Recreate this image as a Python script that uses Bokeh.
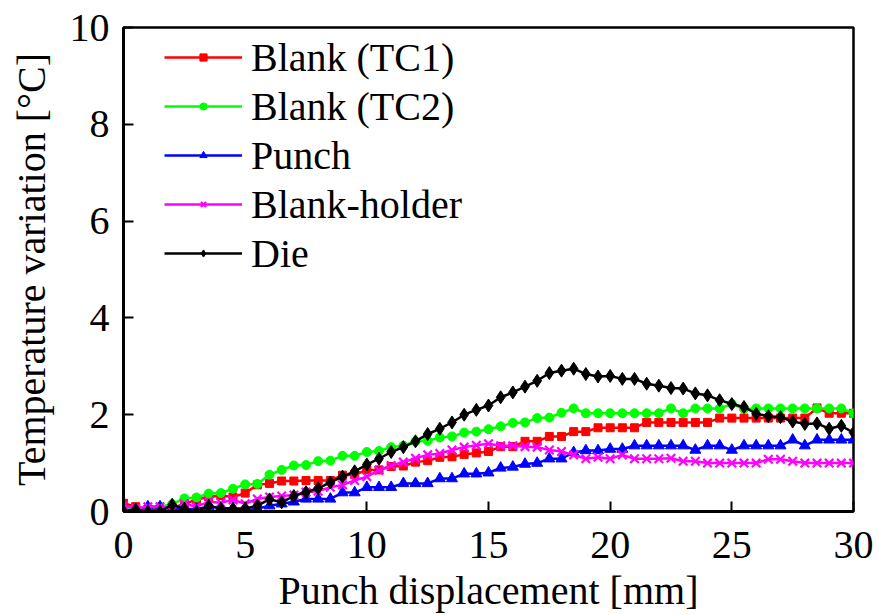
from bokeh.plotting import figure
from bokeh.models import Range1d, FixedTicker, Legend, LegendItem
from bokeh.embed import file_html
from bokeh.resources import INLINE

# Punch displacement [mm]
displacement = [0.0, 0.5, 1.0, 1.5, 2.0, 2.5, 3.0, 3.5, 4.0, 4.5,
                5.0, 5.5, 6.0, 6.5, 7.0, 7.5, 8.0, 8.5, 9.0, 9.5,
                10.0, 10.5, 11.0, 11.5, 12.0, 12.5, 13.0, 13.5, 14.0, 14.5,
                15.0, 15.5, 16.0, 16.5, 17.0, 17.5, 18.0, 18.5, 19.0, 19.5,
                20.0, 20.5, 21.0, 21.5, 22.0, 22.5, 23.0, 23.5, 24.0, 24.5,
                25.0, 25.5, 26.0, 26.5, 27.0, 27.5, 28.0, 28.5, 29.0, 29.5,
                30.0]

blank_tc1 = [0.17, 0.10, 0.05, 0.05, 0.08, 0.15, 0.25, 0.30, 0.33, 0.30,
             0.38, 0.55, 0.58, 0.63, 0.63, 0.64, 0.64, 0.64, 0.75, 0.76,
             0.86, 0.86, 0.93, 0.94, 1.02, 1.05, 1.12, 1.13, 1.18, 1.21,
             1.24, 1.34, 1.34, 1.45, 1.45, 1.55, 1.55, 1.65, 1.65, 1.73,
             1.73, 1.73, 1.73, 1.84, 1.84, 1.84, 1.84, 1.84, 1.84, 1.93,
             1.93, 1.93, 1.93, 1.93, 1.93, 1.93, 1.93, 2.14, 2.03, 2.03,
             2.03]

blank_tc2 = [0.05, 0.05, 0.08, 0.10, 0.15, 0.27, 0.29, 0.37, 0.38, 0.47,
             0.56, 0.57, 0.76, 0.86, 0.95, 0.96, 1.04, 1.05, 1.15, 1.15,
             1.23, 1.25, 1.33, 1.36, 1.45, 1.46, 1.53, 1.55, 1.63, 1.65,
             1.70, 1.76, 1.83, 1.84, 1.93, 1.94, 2.04, 2.13, 2.03, 2.03,
             2.03, 2.03, 2.03, 2.03, 2.03, 2.13, 2.03, 2.13, 2.13, 2.13,
             2.22, 2.12, 2.13, 2.13, 2.13, 2.13, 2.13, 2.13, 2.13, 2.13,
             2.03]

punch = [0.02, 0.02, 0.10, 0.10, 0.05, 0.05, 0.05, 0.10, 0.08, 0.05,
         0.02, 0.06, 0.12, 0.16, 0.20, 0.26, 0.26, 0.26, 0.39, 0.39,
         0.50, 0.50, 0.50, 0.58, 0.58, 0.58, 0.68, 0.68, 0.78, 0.78,
         0.80, 0.90, 0.92, 0.98, 1.00, 1.09, 1.09, 1.22, 1.26, 1.26,
         1.29, 1.29, 1.36, 1.36, 1.36, 1.36, 1.36, 1.27, 1.36, 1.36,
         1.27, 1.36, 1.36, 1.36, 1.36, 1.48, 1.36, 1.48, 1.48, 1.48,
         1.48]

blank_holder = [0.12, 0.06, 0.10, 0.10, 0.06, 0.16, 0.10, 0.20, 0.18, 0.24,
                0.16, 0.26, 0.30, 0.32, 0.34, 0.40, 0.42, 0.50, 0.55, 0.64,
                0.72, 0.85, 0.95, 1.02, 1.10, 1.17, 1.20, 1.27, 1.33, 1.37,
                1.40, 1.36, 1.36, 1.34, 1.33, 1.27, 1.24, 1.17, 1.09, 1.12,
                1.09, 1.17, 1.09, 1.09, 1.09, 1.10, 1.04, 1.04, 1.00, 1.00,
                1.00, 1.00, 1.00, 1.08, 1.08, 1.04, 1.00, 1.00, 1.00, 1.00,
                1.00]

die = [0.00, 0.04, 0.00, 0.00, 0.14, 0.06, 0.00, 0.12, 0.06, 0.06,
       0.06, 0.12, 0.25, 0.19, 0.32, 0.40, 0.48, 0.60, 0.72, 0.83,
       0.97, 1.09, 1.23, 1.33, 1.45, 1.60, 1.71, 1.84, 2.00, 2.10,
       2.19, 2.36, 2.46, 2.58, 2.70, 2.86, 2.91, 2.95, 2.84, 2.79,
       2.80, 2.74, 2.74, 2.64, 2.60, 2.55, 2.54, 2.44, 2.40, 2.30,
       2.22, 2.16, 2.02, 1.97, 1.95, 1.86, 1.81, 1.82, 1.71, 1.77,
       1.63]

series_names = ["Blank (TC1)", "Blank (TC2)", "Punch", "Blank-holder", "Die"]
x_ticks = [0, 5, 10, 15, 20, 25, 30]
y_ticks = [0, 2, 4, 6, 8, 10]
x_title = "Punch displacement [mm]"
y_title = "Temperature variation [°C]"

FONT = "Liberation Serif"
FONT2 = "Times New Roman"
FS = "40px"

p = figure(width=879, height=615, output_backend="svg", toolbar_location=None,
           x_range=Range1d(0, 30), y_range=Range1d(0, 10),
           min_border_left=123, min_border_right=26, min_border_top=27,
           min_border_bottom=104)
p.background_fill_color = "white"
p.border_fill_color = "white"
p.outline_line_color = "black"
p.outline_line_width = 2.5
p.grid.visible = False

for ax in (p.xaxis[0], p.yaxis[0]):
    ax.axis_line_width = 3
    ax.axis_line_color = "black"
    ax.major_tick_in = 10
    ax.major_tick_out = 0
    ax.major_tick_line_width = 2
    ax.minor_tick_line_color = None
    ax.major_label_text_font = FONT2
    ax.major_label_text_font_size = FS
    ax.major_label_text_color = "black"
    ax.axis_label_text_font = FONT
    ax.axis_label_text_font_size = FS
    ax.axis_label_text_font_style = "normal"
    ax.axis_label_text_color = "black"

p.xaxis.ticker = FixedTicker(ticks=x_ticks)
p.yaxis.ticker = FixedTicker(ticks=y_ticks)
p.xaxis.axis_label = x_title
p.yaxis.axis_label = y_title
p.xaxis.major_label_standoff = 20
p.yaxis.major_label_standoff = 14
p.xaxis.axis_label_standoff = 7
p.yaxis.axis_label_standoff = 13

LW = 2.5
r1l = p.line(displacement, blank_tc1, line_color="#FF0000", line_width=LW)
r1m = p.scatter(displacement, blank_tc1, marker="square", size=8,
                fill_color="#FF0000", line_color="#FF0000")
r2l = p.line(displacement, blank_tc2, line_color="#00FF00", line_width=LW)
r2m = p.scatter(displacement, blank_tc2, marker="circle", size=9,
                fill_color="#00FF00", line_color="#00FF00")
r3l = p.line(displacement, punch, line_color="#0000FF", line_width=LW)
r3m = p.scatter(displacement, punch, marker="triangle", size=11,
                fill_color="#0000FF", line_color="#0000FF")
r4l = p.line(displacement, blank_holder, line_color="#FF00FF", line_width=LW)
r4m = p.scatter(displacement, blank_holder, marker="x", size=12,
                line_color="#FF00FF", line_width=2.2)
r5l = p.line(displacement, die, line_color="#000000", line_width=LW)
r5m = p.scatter(displacement, die, marker="diamond", size=13,
                fill_color="#000000", line_color="#000000")

items = [
    LegendItem(label=series_names[0], renderers=[r1l, r1m]),
    LegendItem(label=series_names[1], renderers=[r2l, r2m]),
    LegendItem(label=series_names[2], renderers=[r3l, r3m]),
    LegendItem(label=series_names[3], renderers=[r4l, r4m]),
    LegendItem(label=series_names[4], renderers=[r5l, r5m]),
]
legend = Legend(items=items, location=(41, 234), orientation="vertical")
legend.label_text_font = FONT2
legend.label_text_font_size = FS
legend.label_text_color = "black"
legend.glyph_width = 78
legend.glyph_height = 18
legend.label_height = 48
legend.label_standoff = 9
legend.spacing = 1
legend.padding = 0
legend.margin = 0
legend.border_line_color = None
legend.background_fill_alpha = 0
p.add_layout(legend)

open("out.html", "w").write(file_html(p, INLINE))
